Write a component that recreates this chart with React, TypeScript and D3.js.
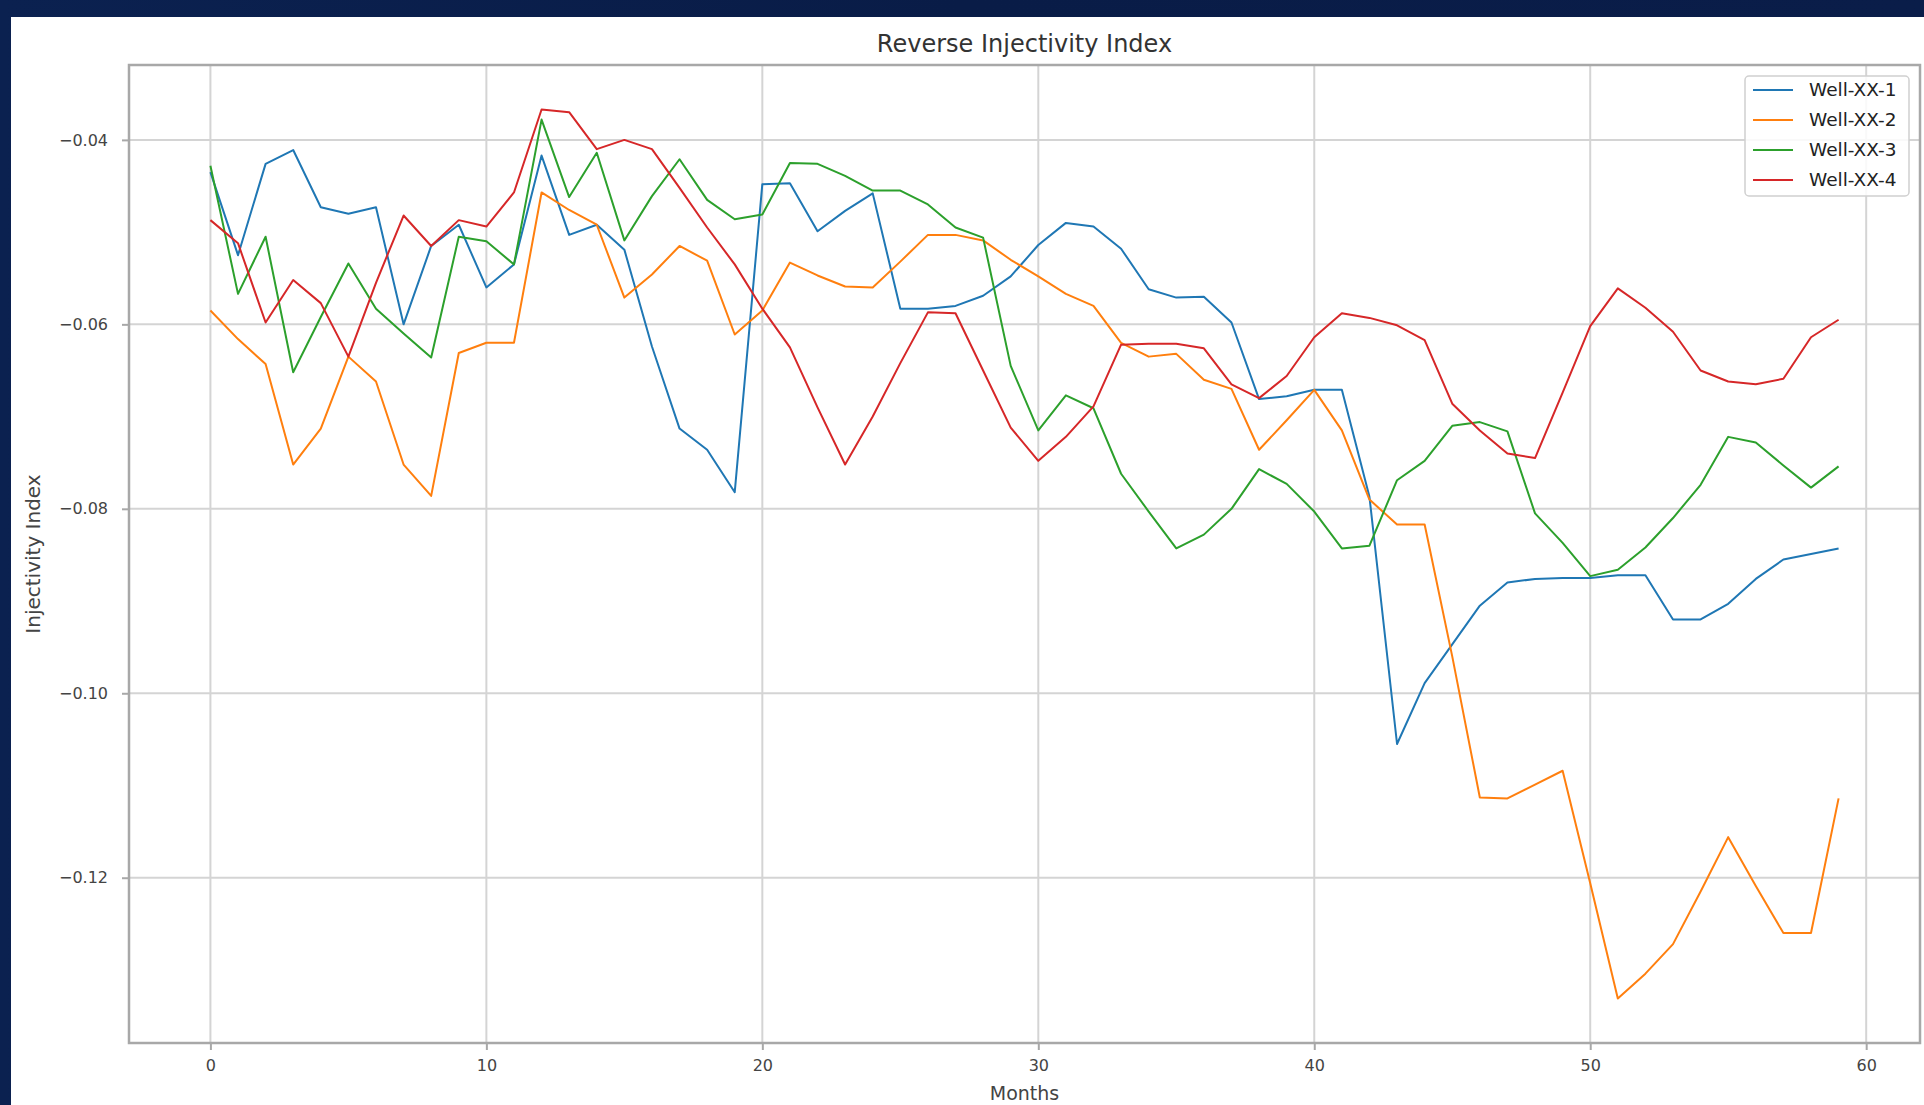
import React, { useEffect, useRef } from "react";
import * as d3 from "d3";

// Monthly reverse injectivity index per well (months 0..59)
const months: number[] = Array.from({ length: 60 }, (_, i) => i);

const well1: number[] = [
  -0.0435, -0.0525, -0.0426, -0.0411, -0.0473, -0.048, -0.0473, -0.06, -0.0515, -0.0492,
  -0.056, -0.0535, -0.0417, -0.0503, -0.0492, -0.0519, -0.0624, -0.0713, -0.0736, -0.0782,
  -0.0448, -0.0447, -0.0499, -0.0477, -0.0458, -0.0583, -0.0583, -0.058, -0.0569, -0.0548,
  -0.0514, -0.049, -0.0494, -0.0518, -0.0562, -0.0571, -0.057, -0.0598, -0.0681, -0.0678,
  -0.0671, -0.0671, -0.0787, -0.1055, -0.0989, -0.0947, -0.0905, -0.088, -0.0876, -0.0875,
  -0.0875, -0.0872, -0.0872, -0.092, -0.092, -0.0903, -0.0876, -0.0855, -0.0849, -0.0843,
];

const well2: number[] = [
  -0.0585, -0.0616, -0.0643, -0.0752, -0.0713, -0.0635, -0.0662, -0.0752, -0.0786, -0.0631,
  -0.062, -0.062, -0.0457, -0.0476, -0.0492, -0.0571, -0.0546, -0.0515, -0.0531, -0.0611,
  -0.0585, -0.0533, -0.0547, -0.0559, -0.056, -0.0532, -0.0503, -0.0503, -0.0509, -0.053,
  -0.0548, -0.0567, -0.058, -0.062, -0.0635, -0.0632, -0.066, -0.067, -0.0736, -0.0704,
  -0.0671, -0.0715, -0.079, -0.0817, -0.0817, -0.096, -0.1113, -0.1114, -0.1099, -0.1084,
  -0.1206, -0.1331, -0.1304, -0.1272, -0.1215, -0.1156, -0.1209, -0.126, -0.126, -0.1114,
];

const well3: number[] = [
  -0.0428, -0.0567, -0.0505, -0.0652, -0.0592, -0.0534, -0.0583, -0.061, -0.0636, -0.0505,
  -0.051, -0.0535, -0.0378, -0.0462, -0.0414, -0.0509, -0.0461, -0.0421, -0.0465, -0.0486,
  -0.0481, -0.0425, -0.0426, -0.0439, -0.0455, -0.0455, -0.047, -0.0495, -0.0506, -0.0645,
  -0.0715, -0.0677, -0.0691, -0.0762, -0.0803, -0.0843, -0.0828, -0.08, -0.0757, -0.0773,
  -0.0803, -0.0843, -0.084, -0.0769, -0.0748, -0.071, -0.0706, -0.0716, -0.0805, -0.0837,
  -0.0873, -0.0866, -0.0842, -0.081, -0.0774, -0.0722, -0.0728, -0.0753, -0.0777, -0.0754,
];

const well4: number[] = [
  -0.0487, -0.0512, -0.0598, -0.0552, -0.0577, -0.0635, -0.0555, -0.0482, -0.0515, -0.0487,
  -0.0494, -0.0457, -0.0367, -0.037, -0.041, -0.04, -0.041, -0.0452, -0.0495, -0.0535,
  -0.0583, -0.0625, -0.069, -0.0752, -0.07, -0.0642, -0.0587, -0.0588, -0.065, -0.0712,
  -0.0748, -0.0722, -0.0689, -0.0622, -0.0621, -0.0621, -0.0626, -0.0665, -0.068, -0.0656,
  -0.0614, -0.0588, -0.0593, -0.0601, -0.0617, -0.0686, -0.0715, -0.074, -0.0745, -0.0674,
  -0.0602, -0.0561, -0.0582, -0.0608, -0.065, -0.0662, -0.0665, -0.0659, -0.0614, -0.0595,
];

const seriesNames: string[] = ["Well-XX-1", "Well-XX-2", "Well-XX-3", "Well-XX-4"];
const seriesColors: string[] = ["#1f77b4", "#ff7f0e", "#2ca02c", "#d62728"];
const xTicks: number[] = [0, 10, 20, 30, 40, 50, 60];
const yTicks: number[] = [-0.12, -0.1, -0.08, -0.06, -0.04];

const W = 1924;
const H = 1105;
const M = { left: 129, right: 1920, top: 65, bottom: 1043 };

export default function App() {
  const ref = useRef<SVGSVGElement | null>(null);

  useEffect(() => {
    const svg = d3.select(ref.current);
    svg.selectAll("*").remove();

    const allSeries = [well1, well2, well3, well4];

    // background and white canvas
    const defs = svg.append("defs");
    const grad = defs
      .append("linearGradient")
      .attr("id", "bg")
      .attr("x1", 0)
      .attr("x2", 1)
      .attr("y1", 0)
      .attr("y2", 0);
    grad.append("stop").attr("offset", "0%").attr("stop-color", "#0b2150");
    grad.append("stop").attr("offset", "50%").attr("stop-color", "#091c47");
    grad.append("stop").attr("offset", "100%").attr("stop-color", "#0a1d49");
    svg.append("rect").attr("width", W).attr("height", H).attr("fill", "url(#bg)");
    svg.append("rect").attr("x", 11).attr("y", 17).attr("width", W - 11).attr("height", H - 17).attr("fill", "#ffffff");

    // scales with 5% data margins
    const xExt = d3.extent(months) as [number, number];
    const xPad = (xExt[1] - xExt[0]) * 0.05;
    const x = d3.scaleLinear().domain([xExt[0] - xPad, xExt[1] + xPad]).range([M.left, M.right]);

    const yMin = d3.min(allSeries, (s) => d3.min(s)) as number;
    const yMax = d3.max(allSeries, (s) => d3.max(s)) as number;
    const yPad = (yMax - yMin) * 0.05;
    const y = d3.scaleLinear().domain([yMin - yPad, yMax + yPad]).range([M.bottom, M.top]);

    const g = svg.append("g");

    // grid
    g.selectAll(".gx")
      .data(xTicks)
      .join("line")
      .attr("x1", (d) => x(d))
      .attr("x2", (d) => x(d))
      .attr("y1", M.top)
      .attr("y2", M.bottom)
      .attr("stroke", "#d4d4d4")
      .attr("stroke-width", 2);
    g.selectAll(".gy")
      .data(yTicks)
      .join("line")
      .attr("x1", M.left)
      .attr("x2", M.right)
      .attr("y1", (d) => y(d))
      .attr("y2", (d) => y(d))
      .attr("stroke", "#d4d4d4")
      .attr("stroke-width", 2);

    // lines
    const line = d3
      .line<number>()
      .x((_, i) => x(months[i]))
      .y((d) => y(d));
    allSeries.forEach((s, i) => {
      g.append("path")
        .attr("d", line(s) as string)
        .attr("fill", "none")
        .attr("stroke", seriesColors[i])
        .attr("stroke-width", 2)
        .attr("stroke-linejoin", "round");
    });

    // frame
    g.append("rect")
      .attr("x", M.left)
      .attr("y", M.top)
      .attr("width", M.right - M.left)
      .attr("height", M.bottom - M.top)
      .attr("fill", "none")
      .attr("stroke", "#a8a8a8")
      .attr("stroke-width", 2.5);

    // axes
    const xAxis = d3
      .axisBottom(x)
      .tickValues(xTicks)
      .tickSize(7)
      .tickPadding(10)
      .tickFormat((d) => d3.format("d")(d as number));
    const gx = svg.append("g").attr("transform", `translate(0,${M.bottom})`).call(xAxis);
    gx.select(".domain").remove();
    gx.selectAll("line").attr("stroke", "#a8a8a8").attr("stroke-width", 2);
    gx.selectAll("text")
      .attr("font-family", "DejaVu Sans")
      .attr("font-size", 16)
      .attr("fill", "#444");

    const yAxis = d3
      .axisLeft(y)
      .tickValues(yTicks)
      .tickSize(7)
      .tickPadding(14)
      .tickFormat((d) => d3.format(".2f")(d as number));
    const gy = svg.append("g").attr("transform", `translate(${M.left},0)`).call(yAxis);
    gy.select(".domain").remove();
    gy.selectAll("line").attr("stroke", "#a8a8a8").attr("stroke-width", 2);
    gy.selectAll("text")
      .attr("font-family", "DejaVu Sans")
      .attr("font-size", 16)
      .attr("fill", "#444");

    // title and axis labels
    svg
      .append("text")
      .attr("x", (M.left + M.right) / 2)
      .attr("y", 52)
      .attr("text-anchor", "middle")
      .attr("font-family", "DejaVu Sans")
      .attr("font-size", 24)
      .attr("fill", "#333")
      .text("Reverse Injectivity Index");
    svg
      .append("text")
      .attr("x", (M.left + M.right) / 2)
      .attr("y", 1100)
      .attr("text-anchor", "middle")
      .attr("font-family", "DejaVu Sans")
      .attr("font-size", 19)
      .attr("fill", "#444")
      .text("Months");
    svg
      .append("text")
      .attr("transform", `translate(40,${(M.top + M.bottom) / 2}) rotate(-90)`)
      .attr("text-anchor", "middle")
      .attr("font-family", "DejaVu Sans")
      .attr("font-size", 20)
      .attr("fill", "#444")
      .text("Injectivity Index");

    // legend
    const lg = svg.append("g").attr("transform", "translate(1745,76)");
    lg.append("rect")
      .attr("width", 164)
      .attr("height", 120)
      .attr("rx", 4)
      .attr("fill", "#ffffff")
      .attr("fill-opacity", 0.85)
      .attr("stroke", "#d0d0d0")
      .attr("stroke-width", 1.5);
    seriesNames.forEach((name, i) => {
      const cy = 14 + i * 30;
      lg.append("line")
        .attr("x1", 8)
        .attr("x2", 48)
        .attr("y1", cy)
        .attr("y2", cy)
        .attr("stroke", seriesColors[i])
        .attr("stroke-width", 2);
      lg.append("text")
        .attr("x", 64)
        .attr("y", cy)
        .attr("dy", "0.35em")
        .attr("font-family", "DejaVu Sans")
        .attr("font-size", 18.5)
        .attr("fill", "#222")
        .text(name);
    });
  }, []);

  return (
    <svg
      ref={ref}
      width={W}
      height={H}
      style={{ position: "absolute", left: 0, top: 0, display: "block" }}
    />
  );
}
